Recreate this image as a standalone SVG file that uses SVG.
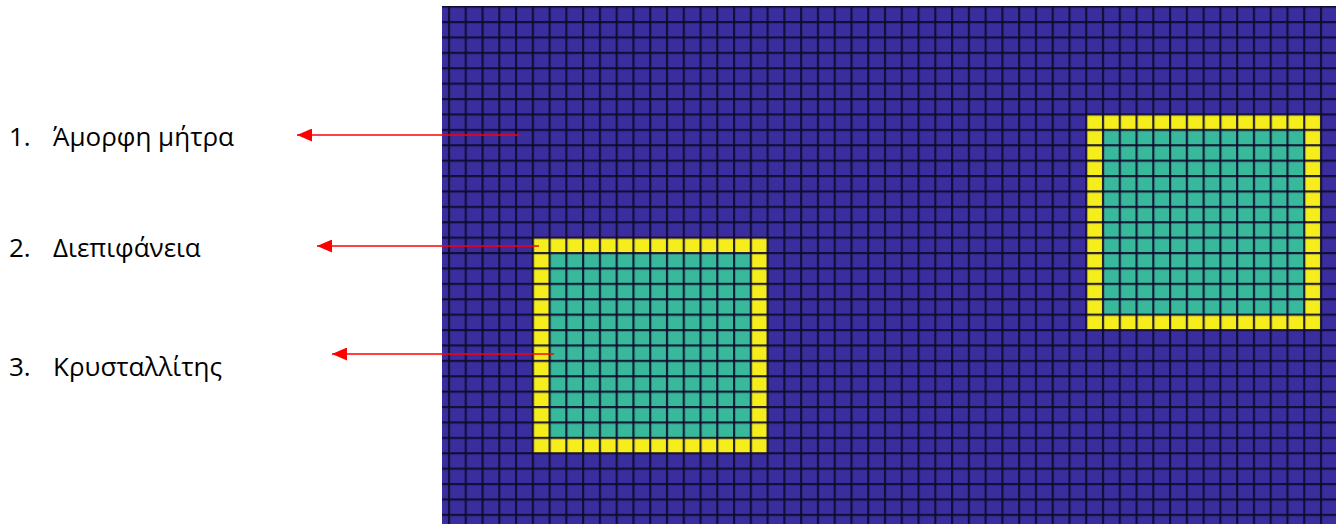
<svg xmlns="http://www.w3.org/2000/svg" width="1336" height="524" viewBox="0 0 1336 524">
  <style>
    .lbl { font-family: "Open Sans", "Noto Sans", "DejaVu Sans", sans-serif; font-size: 26px; fill: #000000; }
    .arrow { stroke: #ff0000; stroke-width: 1.6; fill: none; marker-end: url(#head); }
    .bg { fill: #3a2e9e; }
    .ylw { fill: #f6ee1c; }
    .teal { fill: #38b99c; }
  </style>
  <defs>
    <pattern id="gridlines" patternUnits="userSpaceOnUse" x="447.9" y="5.6" width="16.77" height="15.4">
      <rect x="0" y="0" width="2.2" height="15.4" fill="#0e0a2c" fill-opacity="0.9"/>
      <rect x="0" y="0" width="16.77" height="2.2" fill="#0e0a2c" fill-opacity="0.9"/>
    </pattern>
    <marker id="head" markerUnits="userSpaceOnUse" viewBox="0 0 15 13" refX="15" refY="6.5" markerWidth="15" markerHeight="13" orient="auto">
      <path d="M0,0 L15,6.5 L0,13 z" fill="#ff0000"/>
    </marker>
  </defs>

  <g id="mesh">
    <rect class="bg" x="442" y="6" width="894" height="518"/>
    <g id="crystal-left">
      <rect class="ylw" x="532.85" y="237.7" width="234.78" height="215.6"/>
      <rect class="teal" x="549.62" y="253.1" width="201.24" height="184.8"/>
    </g>
    <g id="crystal-right">
      <rect class="ylw" x="1086.26" y="114.5" width="234.78" height="215.6"/>
      <rect class="teal" x="1103.03" y="129.9" width="201.24" height="184.8"/>
    </g>
    <rect x="442" y="6" width="894" height="518" fill="url(#gridlines)"/>
  </g>

  <g id="label-1">
    <text class="lbl" x="9" y="146">1.</text>
    <text class="lbl" x="53" y="146">Άμορφη μήτρα</text>
  </g>
  <g id="label-2">
    <text class="lbl" x="9" y="257">2.</text>
    <text class="lbl" x="53" y="257">Διεπιφάνεια</text>
  </g>
  <g id="label-3">
    <text class="lbl" x="9" y="376">3.</text>
    <text class="lbl" x="53" y="376">Κρυσταλλίτης</text>
  </g>

  <g id="connectors">
    <line class="arrow" x1="519" y1="135" x2="297" y2="135"/>
    <line class="arrow" x1="539" y1="246" x2="317" y2="246"/>
    <line class="arrow" x1="554" y1="354" x2="332" y2="354"/>
  </g>
</svg>
